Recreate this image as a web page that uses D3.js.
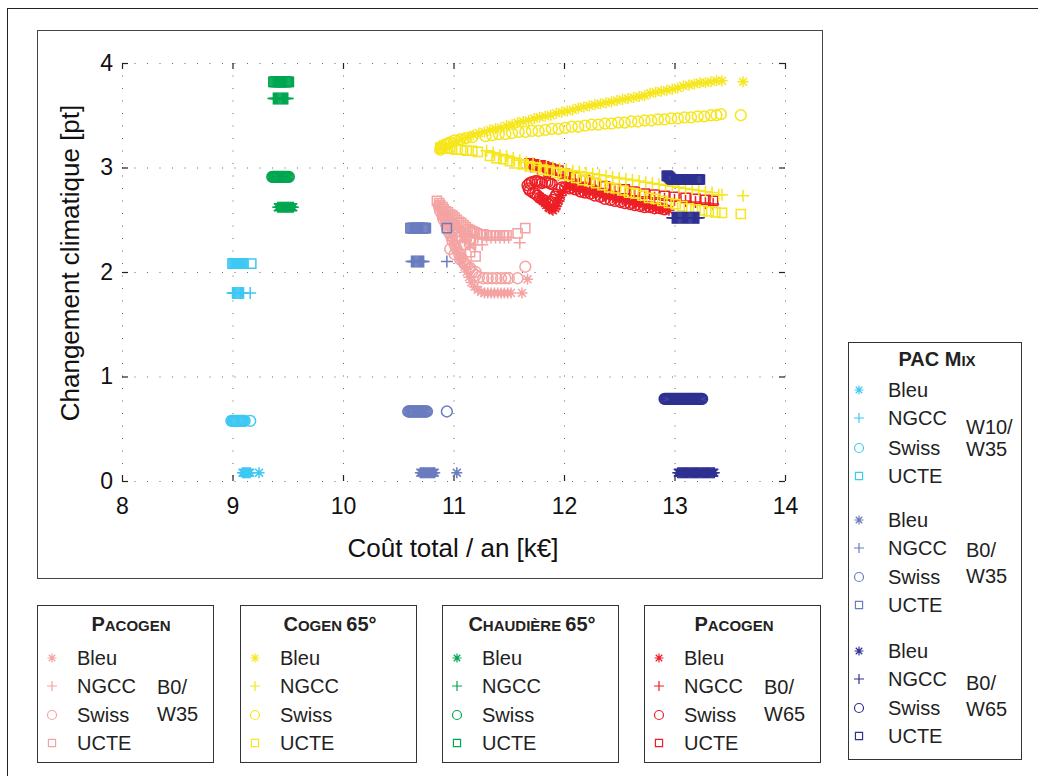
<!DOCTYPE html>
<html>
<head>
<meta charset="utf-8">
<script src="https://cdn.jsdelivr.net/npm/d3@7"></script>
<style>
  body { margin: 0; background: #fff; }
  svg { display: block; font-family: "Liberation Sans", Arial, sans-serif; }
</style>
</head>
<body>
<svg width="1038" height="776"></svg>
<script>
// ---- data: [cost k€, climate pt] ----
// Pacogen B0/W35 (pink)
const paco35Bleu = [[10.89,2.58],[10.90,2.54],[10.92,2.50],[10.93,2.46],[10.95,2.42],[10.96,2.38],[10.98,2.34],[10.99,2.30],[11.01,2.26],
  [11.02,2.22],[11.04,2.18],[11.06,2.14],[11.08,2.10],[11.10,2.05],[11.12,2.00],[11.14,1.95],[11.16,1.90],[11.19,1.86],[11.22,1.83],
  [11.25,1.81],[11.28,1.80],[11.31,1.80],[11.34,1.80],[11.37,1.80],[11.40,1.80],[11.43,1.80],[11.46,1.80],[11.49,1.80],[11.52,1.80],
  [11.62,1.80],[11.67,1.93],
  [10.95,2.52],[10.99,2.47],[11.03,2.42],[11.07,2.37],[11.11,2.31],[11.15,2.25]];
const paco35Ngcc = [[10.86,2.65],[10.88,2.62],[10.89,2.60],[10.91,2.57],[10.93,2.55],[10.95,2.53],[10.97,2.51],[10.99,2.49],[11.01,2.46],
  [11.03,2.44],[11.05,2.42],[11.07,2.41],[11.09,2.39],[11.11,2.37],[11.13,2.36],[11.16,2.34],[11.19,2.33],[11.22,2.33],[11.26,2.33],
  [11.30,2.33],[11.34,2.33],[11.38,2.33],[11.42,2.33],[11.46,2.33],[11.50,2.33],[11.60,2.28],
  [10.92,2.50],[10.97,2.45],[11.01,2.40],[11.06,2.34],[11.10,2.30],[11.15,2.27],[11.20,2.26],[11.26,2.26]];
const paco35Swiss = [[10.87,2.62],[10.88,2.58],[10.90,2.54],[10.91,2.50],[10.93,2.46],[10.94,2.42],[10.96,2.38],[10.98,2.34],[10.99,2.30],
  [11.01,2.26],[11.03,2.22],[11.05,2.18],[11.07,2.14],[11.09,2.10],[11.11,2.07],[11.14,2.03],[11.17,2.00],[11.20,1.97],[11.23,1.95],
  [11.27,1.94],[11.31,1.94],[11.35,1.94],[11.39,1.94],[11.43,1.94],[11.47,1.94],[11.50,1.94],[11.58,1.94],[11.65,2.05],
  [10.97,2.22],[11.01,2.17],[11.06,2.12],[11.10,2.08],[11.15,2.04],[11.20,2.00]];
const paco35Ucte = [[10.85,2.68],[10.87,2.66],[10.88,2.64],[10.90,2.62],[10.91,2.60],[10.93,2.58],[10.95,2.57],[10.97,2.55],[10.99,2.54],
  [11.01,2.52],[11.03,2.50],[11.05,2.48],[11.07,2.47],[11.09,2.45],[11.11,2.43],[11.13,2.41],[11.15,2.40],[11.17,2.39],[11.19,2.38],
  [11.21,2.37],[11.24,2.36],[11.27,2.36],[11.30,2.35],[11.33,2.35],[11.36,2.35],[11.39,2.35],[11.42,2.35],[11.45,2.35],[11.48,2.35],
  [11.58,2.37],[11.65,2.42],
  [10.90,2.55],[10.94,2.48],[10.99,2.40],[11.04,2.33],[11.10,2.26],[11.15,2.19],[11.20,2.15]];

// Pacogen B0/W65 (red)
const paco65Bleu = [[11.78,2.72],[11.80,2.70],[11.81,2.68],[11.83,2.66],[11.84,2.64],[11.86,2.62],[11.87,2.61],[11.89,2.60],[11.90,2.59],
  [11.92,2.61],[11.93,2.63],[11.94,2.66],[11.95,2.68],[11.96,2.71],[11.97,2.73],[11.99,2.77],
  [12.02,2.82],[12.05,2.81],[12.08,2.80],[12.11,2.79],[12.14,2.79],[12.17,2.78],[12.20,2.77],[12.23,2.76],[12.26,2.76],[12.29,2.75],
  [12.32,2.74],[12.35,2.73],[12.38,2.72],[12.41,2.72],[12.44,2.71],[12.47,2.70],[12.50,2.69],[12.53,2.69],[12.56,2.68],[12.59,2.67],
  [12.62,2.66],[12.65,2.65],[12.68,2.65],[12.71,2.64],[12.74,2.63],[12.77,2.63],[12.80,2.62],[12.83,2.61],[12.86,2.61],[12.89,2.60],
  [12.92,2.60],[12.95,2.59]];
const paco65Ngcc = [[11.70,3.01],[11.76,2.99],[11.82,2.97],[11.88,2.95],[11.95,2.93],[12.01,2.91],[12.06,2.89],[12.10,2.88],[12.15,2.86],
  [12.19,2.85],[12.24,2.83],[12.28,2.82],[12.33,2.80],[12.37,2.79],[12.46,2.77],[12.55,2.75],[12.64,2.73],[12.73,2.72],[12.82,2.71],
  [12.91,2.70],[13.00,2.69],[13.10,2.68],[13.19,2.67],[13.28,2.66],[13.35,2.65]];
const paco65Swiss = [[11.67,2.83],[11.69,2.85],[11.71,2.86],[11.74,2.87],[11.76,2.87],[11.78,2.86],[11.80,2.85],[11.83,2.86],[11.85,2.86],
  [11.87,2.85],[11.89,2.84],[11.68,2.80],[11.69,2.78],[11.72,2.76],[11.74,2.75],[11.76,2.73],[11.78,2.71],[11.81,2.69],[11.83,2.68],
  [11.86,2.65],[11.88,2.67],[11.90,2.69],[11.92,2.72],[11.93,2.74],[11.95,2.79],[11.98,2.81],[12.01,2.81],[12.05,2.80],[12.10,2.79],
  [12.15,2.77],[12.19,2.76],[12.24,2.75],[12.28,2.73],[12.33,2.72],[12.37,2.70],[12.42,2.69],[12.46,2.68],[12.51,2.67],[12.55,2.66],
  [12.60,2.65],[12.64,2.64],[12.69,2.63],[12.73,2.62],[12.78,2.62],[12.82,2.61],[12.87,2.61],[12.91,2.60]];
const paco65Ucte = [[11.69,3.04],[11.73,3.03],[11.76,3.02],[11.79,3.02],[11.82,3.01],[11.85,3.00],[11.88,2.99],[11.91,2.98],[11.95,2.97],
  [12.01,2.94],[12.10,2.91],[12.19,2.88],[12.28,2.85],[12.37,2.82],[12.46,2.80],[12.55,2.79],[12.64,2.77],[12.73,2.75],[12.82,2.74],
  [12.91,2.73],[13.00,2.72],[13.10,2.71],[13.19,2.70],[13.28,2.69],[13.35,2.68]];

// Cogen 65° (yellow)
const cogenBleu = [[10.88,3.19],[10.93,3.21],[10.98,3.23],[11.03,3.25],[11.08,3.27],[11.13,3.29],[11.18,3.31],[11.23,3.33],[11.28,3.34],
  [11.33,3.36],[11.38,3.37],[11.43,3.38],[11.48,3.40],[11.53,3.41],[11.58,3.43],[11.63,3.44],[11.68,3.45],[11.73,3.47],[11.78,3.48],
  [11.83,3.49],[11.88,3.50],[11.93,3.52],[11.98,3.53],[12.03,3.54],[12.08,3.55],[12.13,3.57],[12.18,3.58],[12.23,3.59],[12.28,3.60],
  [12.33,3.61],[12.38,3.62],[12.43,3.63],[12.48,3.64],[12.53,3.65],[12.58,3.66],[12.63,3.67],[12.68,3.68],[12.73,3.69],[12.78,3.71],
  [12.83,3.72],[12.88,3.73],[12.93,3.74],[12.98,3.75],[13.03,3.76],[13.08,3.78],[13.13,3.79],[13.18,3.80],[13.23,3.81],[13.28,3.81],
  [13.33,3.82],[13.38,3.83],[13.43,3.83],[13.62,3.82]];
const cogenNgcc = [[11.30,3.16],[11.36,3.14],[11.42,3.12],[11.48,3.11],[11.54,3.09],[11.60,3.07],[11.66,3.05],[11.72,3.04],[11.78,3.02],
  [11.84,3.01],[11.90,3.00],[11.96,2.99],[12.02,2.98],[12.08,2.97],[12.14,2.96],[12.20,2.95],[12.26,2.94],[12.32,2.93],[12.38,2.92],
  [12.44,2.91],[12.50,2.90],[12.56,2.89],[12.62,2.88],[12.68,2.87],[12.74,2.86],[12.80,2.85],[12.86,2.84],[12.92,2.83],[12.98,2.82],
  [13.04,2.81],[13.10,2.80],[13.16,2.79],[13.22,2.78],[13.28,2.77],[13.34,2.76],[13.40,2.74],[13.43,2.74],[13.62,2.73]];
const cogenSwiss = [[10.88,3.17],[10.89,3.19],[10.90,3.21],[10.93,3.22],[10.95,3.23],[10.97,3.24],[11.01,3.26],[11.06,3.27],[11.11,3.28],
  [11.17,3.29],[11.29,3.30],[11.35,3.31],[11.41,3.32],[11.47,3.32],[11.53,3.33],[11.59,3.34],[11.65,3.34],[11.71,3.35],[11.77,3.35],
  [11.83,3.36],[11.89,3.37],[11.95,3.37],[12.01,3.38],[12.07,3.39],[12.13,3.39],[12.19,3.40],[12.25,3.41],[12.31,3.41],[12.37,3.42],
  [12.43,3.42],[12.49,3.43],[12.55,3.43],[12.61,3.44],[12.67,3.44],[12.73,3.45],[12.79,3.45],[12.85,3.46],[12.91,3.46],[12.97,3.47],
  [13.03,3.47],[13.09,3.48],[13.15,3.48],[13.21,3.49],[13.27,3.49],[13.33,3.50],[13.38,3.50],[13.42,3.51],[13.60,3.50]];
const cogenUcte = [[10.88,3.19],[10.90,3.18],[10.92,3.18],[10.95,3.18],[10.97,3.18],[11.02,3.17],[11.07,3.17],[11.12,3.16],[11.17,3.16],
  [11.22,3.15],[11.33,3.11],[11.39,3.09],[11.45,3.08],[11.51,3.06],[11.57,3.04],[11.63,3.03],[11.69,3.01],[11.75,3.00],[11.81,2.98],
  [11.87,2.97],[11.93,2.95],[11.99,2.93],[12.05,2.92],[12.11,2.90],[12.17,2.88],[12.23,2.87],[12.29,2.85],[12.35,2.83],[12.41,2.81],
  [12.47,2.80],[12.53,2.78],[12.59,2.76],[12.65,2.75],[12.71,2.73],[12.77,2.71],[12.83,2.70],[12.89,2.68],[12.95,2.66],[13.01,2.65],
  [13.07,2.63],[13.13,2.61],[13.19,2.60],[13.25,2.59],[13.31,2.58],[13.37,2.57],[13.43,2.565],[13.60,2.555]];

// tight clusters: cost values with the single climate value of each cluster
// Chaudière 65° (green)
const chaudBleuX = [9.41,9.42,9.43,9.44,9.45,9.46,9.47,9.48,9.49,9.50,9.51,9.52,9.53,9.54,9.55];
const chaudNgccX = [9.37,9.38,9.39,9.40,9.41,9.42,9.43,9.44,9.45,9.46,9.47,9.48,9.49,9.50];
const chaudSwissX = [9.36,9.37,9.38,9.39,9.40,9.41,9.42,9.43,9.44,9.45,9.46,9.47,9.48,9.49,9.50,9.51];
const chaudUcteX = [9.37,9.38,9.39,9.40,9.41,9.42,9.43,9.44,9.45,9.46,9.47,9.48,9.49,9.50,9.51];
const chaudY = [2.62, 3.66, 2.91, 3.82]; // Bleu, NGCC, Swiss, UCTE

// PAC Mix W10/W35 (light blue)
const mix1035BleuX = [9.09,9.10,9.11,9.12,9.13,9.14,9.15,9.16,9.24];
const mix1035NgccX = [9.00,9.01,9.02,9.03,9.04,9.05,9.06,9.07,9.08,9.09,9.10,9.16];
const mix1035SwissX = [8.99,9.00,9.01,9.02,9.03,9.04,9.05,9.06,9.07,9.08,9.09,9.10,9.11,9.16];
const mix1035UcteX = [9.00,9.01,9.02,9.03,9.04,9.05,9.06,9.07,9.08,9.09,9.10,9.17];
const mix1035Y = [0.08, 1.80, 0.575, 2.08];

// PAC Mix B0/W35 (medium blue)
const mix035BleuX = [10.70,10.71,10.72,10.73,10.74,10.75,10.76,10.77,10.78,10.79,10.80,10.81,10.82,10.83,11.03];
const mix035NgccX = [10.62,10.63,10.64,10.65,10.66,10.67,10.68,10.69,10.70,10.71,10.72,10.73,10.94];
const mix035SwissX = [10.59,10.60,10.61,10.62,10.63,10.64,10.65,10.66,10.67,10.68,10.69,10.70,10.71,10.72,10.73,10.74,10.75,10.76,10.94];
const mix035UcteX = [10.61,10.62,10.63,10.64,10.65,10.66,10.67,10.68,10.69,10.70,10.71,10.72,10.73,10.74,10.75,10.94];
const mix035Y = [0.08, 2.10, 0.665, 2.42];

// PAC Mix B0/W65 (dark blue)
const mix065BleuX = [13.03,13.04,13.05,13.06,13.07,13.08,13.09,13.10,13.11,13.12,13.13,13.14,13.15,13.16,13.17,13.18,13.19,
  13.20,13.21,13.22,13.23,13.24,13.25,13.26,13.27,13.28,13.29,13.30,13.31,13.32,13.33,13.34,13.35,13.36];
const mix065NgccX = [12.98,12.99,13.00,13.01,13.02,13.03,13.04,13.05,13.06,13.07,13.08,13.09,13.10,13.11,13.12,13.13,13.14,
  13.15,13.16,13.17,13.18,13.19,13.20,13.21,13.22];
const mix065SwissX = [12.91,12.92,12.93,12.94,12.95,12.96,12.97,12.98,12.99,13.00,13.01,13.02,13.03,13.04,13.05,13.06,13.07,
  13.08,13.09,13.10,13.11,13.12,13.13,13.14,13.15,13.16,13.17,13.18,13.19,13.20,13.21,13.22,13.23,13.24,13.25];
const mix065UcteX = [12.99,13.00,13.01,13.02,13.03,13.04,13.05,13.06,13.07,13.08,13.09,13.10,13.11,13.12,13.13,13.14,13.15,
  13.16,13.17,13.18,13.19,13.20,13.21,13.22,13.23];
const mix065Y = [0.08, 2.52, 0.785, 2.885];
const mix065UcteStep = [[12.93,2.92],[12.94,2.92],[12.95,2.91],[12.96,2.90],[12.97,2.89],[12.98,2.885]];

const xTicks = [8, 9, 10, 11, 12, 13, 14];
const yTicks = [0, 1, 2, 3, 4];
const entryNames = ['Bleu', 'NGCC', 'Swiss', 'UCTE'];
const markerTypes = ['star', 'plus', 'circle', 'square'];

const COLORS = {
    pink: '#f4a3a3', red: '#ed1f26', yellow: '#f6e61c', green: '#00a651',
    light: '#3ec8f4', medium: '#6a7cbf', dark: '#2e3192'
};

// pair cluster cost values with their climate value
function cluster(xs, yv){
    return xs.map((v) => [v, yv]);
}

// drawing order (later on top)
const seriesList = [
    {data: [paco35Bleu, paco35Ngcc, paco35Swiss, paco35Ucte], color: COLORS.pink},
    {data: [paco65Bleu, paco65Ngcc, paco65Swiss, paco65Ucte], color: COLORS.red},
    {data: [cogenBleu, cogenNgcc, cogenSwiss, cogenUcte], color: COLORS.yellow},
    {data: [chaudBleuX, chaudNgccX, chaudSwissX, chaudUcteX].map((xs, i) => cluster(xs, chaudY[i])), color: COLORS.green},
    {data: [mix1035BleuX, mix1035NgccX, mix1035SwissX, mix1035UcteX].map((xs, i) => cluster(xs, mix1035Y[i])), color: COLORS.light},
    {data: [mix035BleuX, mix035NgccX, mix035SwissX, mix035UcteX].map((xs, i) => cluster(xs, mix035Y[i])), color: COLORS.medium},
    {data: [mix065BleuX, mix065NgccX, mix065SwissX, mix065UcteX].map((xs, i) => cluster(xs, mix065Y[i])), color: COLORS.dark}
];
seriesList[6].data[3] = mix065UcteStep.concat(seriesList[6].data[3]);

let svg = d3.select('svg');

// outer frame and plot panel
svg.append('rect').attr('x', 7.5).attr('y', 8.5).attr('width', 1040).attr('height', 780)
    .attr('fill', 'none').attr('stroke', '#222').attr('stroke-width', 1);
svg.append('rect').attr('x', 37.5).attr('y', 30.5).attr('width', 785).attr('height', 548)
    .attr('fill', 'none').attr('stroke', '#444').attr('stroke-width', 1);

let x = d3.scaleLinear().domain([8, 14]).range([122, 785]);
let y = d3.scaleLinear().domain([0, 4]).range([481, 63]);

// marker shapes
function markerPath(type, r){
    if(type === 'star'){
        const d = r * 0.72;
        return `M0,${-r}V${r}M${-r},0H${r}M${-d},${-d}L${d},${d}M${-d},${d}L${d},${-d}`;
    }
    if(type === 'plus'){
        return `M0,${-r}V${r}M${-r},0H${r}`;
    }
    if(type === 'circle'){
        return `M${r},0A${r},${r} 0 1,1 ${-r},0A${r},${r} 0 1,1 ${r},0Z`;
    }
    const s = r * 0.85;
    return `M${-s},${-s}H${s}V${s}H${-s}Z`;
}
const plotSize = {star: 5.5, plus: 6, circle: 5.4, square: 5.4};
const legendSize = {star: 4.5, plus: 5, circle: 4.5, square: 4.2};

// dotted grid
let grid = svg.append('g').attr('stroke', '#666').attr('stroke-width', 1)
    .attr('stroke-dasharray', '1,11.5');
grid.selectAll('.gx').data(xTicks).enter().append('line')
    .attr('x1', (d) => x(d) + 0.5).attr('x2', (d) => x(d) + 0.5)
    .attr('y1', y(4)).attr('y2', y(0));
grid.selectAll('.gy').data(yTicks).enter().append('line')
    .attr('y1', (d) => y(d) + 0.5).attr('y2', (d) => y(d) + 0.5)
    .attr('x1', x(8)).attr('x2', x(14));

// axes: inward ticks, no axis line
function styleAxis(g){
    g.select('.domain').remove();
    g.selectAll('.tick line').attr('stroke', '#222').attr('stroke-width', 1.2);
    g.selectAll('.tick text').attr('fill', '#111').attr('font-size', 23)
        .attr('font-family', '"Liberation Sans", Arial, sans-serif');
}
svg.append('g').attr('transform', `translate(0,${y(0)})`)
    .call(d3.axisBottom(x).tickValues(xTicks).tickFormat(d3.format('d')).tickSize(-6).tickPadding(17))
    .call(styleAxis);
svg.append('g').attr('transform', `translate(${x(8)},0)`)
    .call(d3.axisLeft(y).tickValues(yTicks).tickFormat(d3.format('d')).tickSize(-6).tickPadding(9))
    .call(styleAxis);
svg.append('g').attr('transform', `translate(0,${y(4)})`)
    .call(d3.axisTop(x).tickValues(xTicks).tickFormat('').tickSize(-6))
    .call(styleAxis);
svg.append('g').attr('transform', `translate(${x(14)},0)`)
    .call(d3.axisRight(y).tickValues(yTicks).tickFormat('').tickSize(-6))
    .call(styleAxis);

// axis labels
svg.append('text').attr('x', 453).attr('y', 557).attr('text-anchor', 'middle')
    .attr('font-size', 26).attr('fill', '#111').text('Coût total / an [k€]');
svg.append('text').attr('transform', 'translate(79,263) rotate(-90)').attr('text-anchor', 'middle')
    .attr('font-size', 26).attr('fill', '#111').text('Changement climatique [pt]');

// scatter marks
let marks = svg.append('g').attr('fill', 'none').attr('stroke-width', 1.5);
seriesList.forEach((s) => {
    s.data.forEach((pts, i) => {
        const type = markerTypes[i];
        marks.append('g').attr('stroke', s.color)
            .selectAll('path')
            .data(pts)
            .enter()
            .append('path')
                .attr('transform', (d) => `translate(${x(d[0])},${y(d[1])})`)
                .attr('d', markerPath(type, plotSize[type]));
    });
});

// ---- legends ----
function legendTitle(g, cx, by, parts){
    let t = g.append('text').attr('x', cx).attr('y', by).attr('text-anchor', 'middle')
        .attr('font-weight', 'bold').attr('fill', '#222');
    parts.forEach((p) => t.append('tspan').attr('font-size', p[1]).text(p[0]));
}
function legendGroup(g, mx, tx, baselines, color){
    entryNames.forEach((name, i) => {
        const type = markerTypes[i];
        g.append('path')
            .attr('transform', `translate(${mx},${baselines[i] - 7})`)
            .attr('d', markerPath(type, legendSize[type]))
            .attr('fill', 'none').attr('stroke', color).attr('stroke-width', 1.2);
        g.append('text').attr('x', tx).attr('y', baselines[i])
            .attr('font-size', 20).attr('fill', '#222').text(name);
    });
}
function sideLabel(g, sx, lines){
    lines.forEach((l) => g.append('text').attr('x', sx).attr('y', l[1])
        .attr('font-size', 20).attr('fill', '#222').text(l[0]));
}

const bottomBoxes = [
    {x0: 37, title: [['P', 20], ['ACOGEN', 15]], color: COLORS.pink, side: ['B0/', 'W35'], cx: 131},
    {x0: 240, title: [['C', 20], ['OGEN ', 15], ['65°', 20]], color: COLORS.yellow, side: null, cx: 330},
    {x0: 442, title: [['C', 20], ['HAUDIÈRE ', 15], ['65°', 20]], color: COLORS.green, side: null, cx: 532},
    {x0: 644, title: [['P', 20], ['ACOGEN', 15]], color: COLORS.red, side: ['B0/', 'W65'], cx: 734}
];
const bottomBaselines = [665, 693, 722, 750];
bottomBoxes.forEach((b) => {
    let g = svg.append('g');
    g.append('rect').attr('x', b.x0 + 0.5).attr('y', 605.5).attr('width', 176).attr('height', 157)
        .attr('fill', '#fff').attr('stroke', '#333');
    legendTitle(g, b.cx, 631, b.title);
    legendGroup(g, b.x0 + 15, b.x0 + 40, bottomBaselines, b.color);
    if(b.side){
        sideLabel(g, b.x0 + 120, [[b.side[0], 694], [b.side[1], 721]]);
    }
});

let mixG = svg.append('g');
mixG.append('rect').attr('x', 848.5).attr('y', 342.5).attr('width', 173).attr('height', 417)
    .attr('fill', '#fff').attr('stroke', '#333');
legendTitle(mixG, 937, 366, [['PAC M', 20], ['IX', 15]]);
const mixGroups = [
    {baselines: [397, 425, 455, 483], color: COLORS.light, side: [['W10/', 434], ['W35', 456]]},
    {baselines: [527, 555, 584, 612], color: COLORS.medium, side: [['B0/', 557], ['W35', 583]]},
    {baselines: [658, 686, 715, 743], color: COLORS.dark, side: [['B0/', 690], ['W65', 716]]}
];
mixGroups.forEach((m) => {
    legendGroup(mixG, 859, 888, m.baselines, m.color);
    sideLabel(mixG, 966, m.side);
});
</script>
</body>
</html>
